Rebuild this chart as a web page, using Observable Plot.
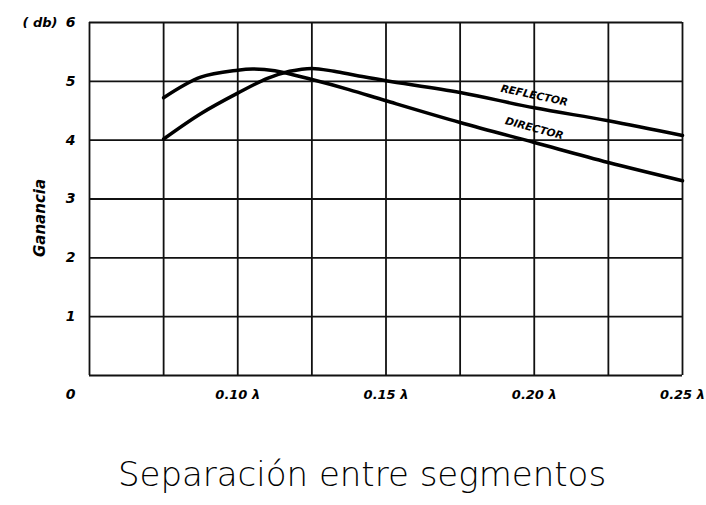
<!DOCTYPE html>
<html><head><meta charset="utf-8">
<script src="https://cdn.jsdelivr.net/npm/d3@7"></script>
<script src="https://cdn.jsdelivr.net/npm/@observablehq/plot@0.6"></script>
<style>body{margin:0;background:#fff}</style>
</head><body><div id="chart"></div>
<script>
const directorX = [0.075, 0.0875, 0.10, 0.105, 0.1125, 0.125, 0.1375, 0.15, 0.175, 0.20, 0.225, 0.25];
const directorY = [4.72, 5.07, 5.19, 5.21, 5.18, 5.03, 4.86, 4.67, 4.30, 3.96, 3.62, 3.31];
const reflectorX = [0.075, 0.0875, 0.10, 0.11, 0.1175, 0.125, 0.1325, 0.14, 0.15, 0.175, 0.20, 0.225, 0.25];
const reflectorY = [4.02, 4.45, 4.80, 5.05, 5.17, 5.22, 5.17, 5.10, 5.01, 4.81, 4.55, 4.33, 4.08];
const xGrid = [0.05, 0.075, 0.10, 0.125, 0.15, 0.175, 0.20, 0.225, 0.25];
const yGrid = [0, 1, 2, 3, 4, 5, 6];
const xTickValues = [0.10, 0.15, 0.20, 0.25];
const xTickLabels = ["0.10 λ", "0.15 λ", "0.20 λ", "0.25 λ"];
const yTickValues = [1, 2, 3, 4, 5, 6];
const yTickLabels = ["1", "2", "3", "4", "5", "6"];
const seriesLabels = [
  {name: "REFLECTOR", x: 0.20, y: 4.76, rotate: 12},
  {name: "DIRECTOR", x: 0.20, y: 4.20, rotate: 15}
];
const director = directorX.map((x, i) => ({x, y: directorY[i]}));
const reflector = reflectorX.map((x, i) => ({x, y: reflectorY[i]}));
const font = "'DejaVu Sans', sans-serif";

const plot = Plot.plot({
  width: 706, height: 505,
  marginLeft: 89, marginRight: 24, marginTop: 22, marginBottom: 130,
  x: {domain: [0.05, 0.25], axis: null},
  y: {domain: [0, 6], axis: null},
  style: {background: "#fff", fontFamily: font},
  marks: [
    Plot.ruleX(xGrid, {stroke: "#111", strokeWidth: 1.8}),
    Plot.ruleY(yGrid, {stroke: "#111", strokeWidth: 1.8}),
    Plot.line(director, {x: "x", y: "y", curve: "catmull-rom", stroke: "#000", strokeWidth: 3.5}),
    Plot.line(reflector, {x: "x", y: "y", curve: "catmull-rom", stroke: "#000", strokeWidth: 3.5}),
    Plot.text(seriesLabels, {x: "x", y: "y", text: "name", rotate: "rotate", fontSize: 10.5, fontStyle: "italic", fontWeight: "bold", fill: "#000"}),
    Plot.text(xTickValues, {x: d => d, y: 0, text: (d, i) => xTickLabels[i], dy: 19, fontSize: 13, fontStyle: "italic", fontWeight: "bold", fill: "#000"}),
    Plot.text(yTickValues, {x: 0.05, y: d => d, text: (d, i) => yTickLabels[i], dx: -19, fontSize: 14, fontStyle: "italic", fontWeight: "bold", fill: "#000"}),
    Plot.text(["0"], {x: 0.05, y: 0, text: d => d, dx: -19, dy: 19, fontSize: 14, fontStyle: "italic", fontWeight: "bold", fill: "#000"}),
    Plot.text(["( db)"], {x: 0.05, y: 6, text: d => d, dx: -32, textAnchor: "end", fontSize: 13, fontStyle: "italic", fontWeight: "bold", fill: "#000"}),
    Plot.text(["Ganancia"], {frameAnchor: "left", textAnchor: "middle", text: d => d, dx: -49, dy: 19, rotate: -90, fontSize: 15, fontStyle: "italic", fontWeight: "bold", fill: "#000"}),
    Plot.text(["Separación entre segmentos"], {frameAnchor: "bottom", text: d => d, dx: -24, dy: 110, fontSize: 34, fill: "#000", fontFamily: "'DejaVu Sans', sans-serif", fontWeight: 300})
  ]
});
document.getElementById("chart").appendChild(plot);
</script>
</body></html>
